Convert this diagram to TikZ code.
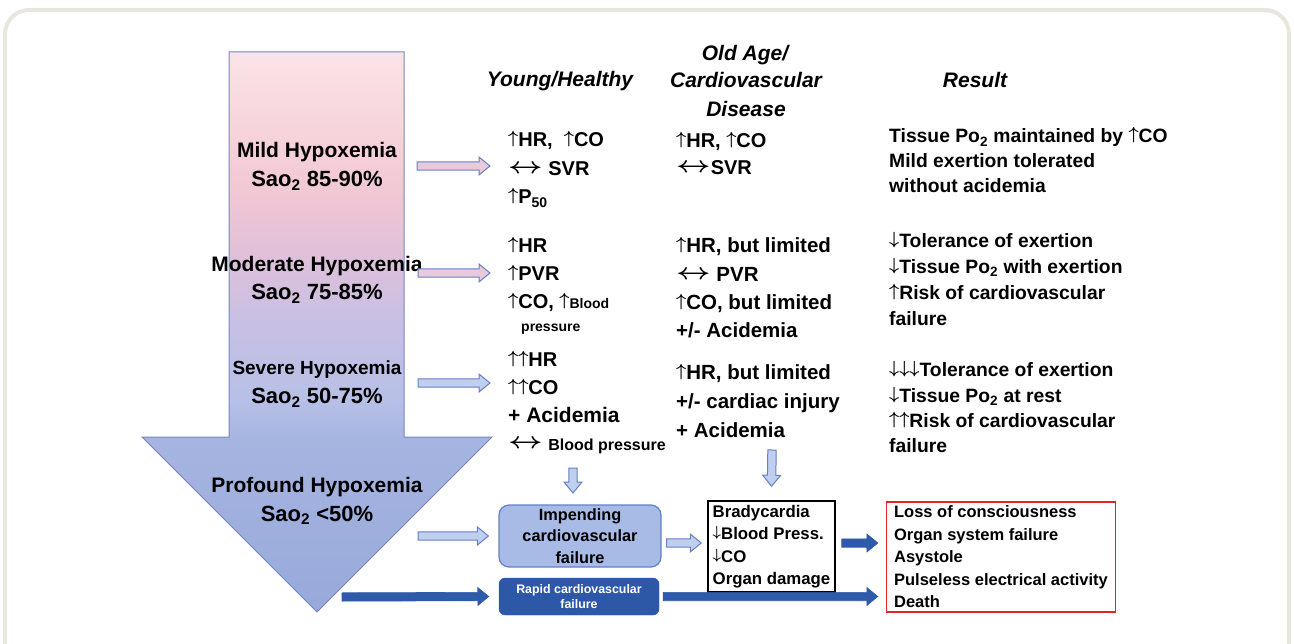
\documentclass[tikz,border=0pt]{standalone}
\usepackage{graphicx}
\usepackage{fontspec}
\setmainfont{Liberation Sans}
\usetikzlibrary{calc}

\definecolor{frameGray}{RGB}{233,230,222}
\definecolor{hxTop}{RGB}{250,228,232}
\definecolor{hxRose}{RGB}{247,212,219}
\definecolor{hxPink}{RGB}{240,198,212}
\definecolor{hxMauve}{RGB}{222,192,218}
\definecolor{hxLav}{RGB}{200,192,228}
\definecolor{hxBlue}{RGB}{183,192,230}
\definecolor{hxHead}{RGB}{166,180,224}
\definecolor{hxBot}{RGB}{152,169,218}
\definecolor{hxEdge}{RGB}{118,134,196}
\definecolor{arPink}{RGB}{232,202,218}
\definecolor{arLight}{RGB}{192,206,240}
\definecolor{arEdge}{RGB}{100,128,196}
\definecolor{arDark}{RGB}{47,90,170}
\definecolor{impFill}{RGB}{168,186,230}
\definecolor{rapidFill}{RGB}{45,88,168}
\definecolor{resRed}{RGB}{226,38,38}

\pgfdeclareverticalshading{hypox}{100bp}{color(0bp)=(hxBot); color(25bp)=(hxBot);
  color(40.4bp)=(hxHead); color(43.9bp)=(hxBlue); color(51bp)=(hxLav); color(56.4bp)=(hxMauve);
  color(61.8bp)=(hxPink); color(68bp)=(hxRose); color(75bp)=(hxTop); color(100bp)=(hxTop)}

% thin arrows as in the figure
\newcommand\arUp{\raisebox{.165em}{\scalebox{.85}{\boldmath$\uparrow$}}}
\newcommand\arDn{\raisebox{.165em}{\scalebox{.85}{\boldmath$\downarrow$}}}
\newcommand\arLR{\raisebox{.1em}{\scalebox{1.45}[1.1]{\boldmath$\leftrightarrow$}}}

\def\bkShaft{4.2pt}
\def\bkHead{9pt}
\def\bkTip{11pt}
% block arrow from #2 to #3, style #1
\newcommand\blockarrow[3]{%
  \filldraw[#1] let \p1=(#2), \p2=(#3), \p3=($(\p2)!\bkTip!(\p1)$) in
    ($(\p1)!\bkShaft!90:(\p2)$) -- ($(\p3)!\bkShaft!-90:(\p1)$) -- ($(\p3)!\bkHead!-90:(\p1)$)
    -- (\p2) -- ($(\p3)!\bkHead!90:(\p1)$) -- ($(\p3)!\bkShaft!90:(\p1)$)
    -- ($(\p1)!\bkShaft!-90:(\p2)$) -- cycle;}

\tikzset{
  big/.style={anchor=base, inner sep=0pt, font=\bfseries\fontsize{21}{24}\selectfont},
  sat/.style={anchor=base, inner sep=0pt, font=\bfseries\fontsize{22}{24}\selectfont},
  hd/.style={anchor=base, inner sep=0pt, font=\bfseries\itshape\fontsize{21}{24}\selectfont},
  ln/.style={anchor=base west, inner sep=0pt, font=\bfseries\fontsize{20}{24}\selectfont},
  res/.style={anchor=base west, inner sep=0pt, font=\bfseries\fontsize{19.3}{24}\selectfont},
  pinkar/.style={fill=arPink, draw=arEdge, line width=1pt},
  bluear/.style={fill=arLight, draw=arEdge, line width=1pt},
  darkar/.style={fill=arDark, draw=arDark, line width=.6pt}
}

\begin{document}
\begin{tikzpicture}[x=1pt, y=-1pt]
  \useasboundingbox (0,0) rectangle (1294,644);
  \draw[frameGray, line width=4pt, rounded corners=24pt] (5,10) rectangle (1289,700);

  % falling saturation
  \path[shade, shading=hypox, draw=hxEdge, line width=1pt] (229,52) -- (404,52) -- (404,437)
    -- (492,437) -- (317,612) -- (142,437) -- (229,437) -- cycle;

  \node[big] (mild) at (317,158) {Mild Hypoxemia};
  \node[sat] (mildSat) at (317,187) {Sao\textsubscript{2} 85-90\%};
  \node[big] (moder) at (317,272) {Moderate Hypoxemia};
  \node[sat] (moderSat) at (317,300) {Sao\textsubscript{2} 75-85\%};
  \node[big, font=\bfseries\fontsize{19}{24}\selectfont] (sev) at (317,375) {Severe Hypoxemia};
  \node[sat] (sevSat) at (317,404) {Sao\textsubscript{2} 50-75\%};
  \node[big] (prof) at (317,492) {Profound Hypoxemia};
  \node[sat] (profSat) at (317,521) {Sao\textsubscript{2} <50\%};

  % column heads
  \node[hd] (hdYoung) at (560,87) {Young/Healthy};
  \node[hd] (hdOld1) at (745,61) {Old Age/};
  \node[hd] (hdOld2) at (746,88) {Cardiovascular};
  \node[hd] (hdOld3) at (746,117) {Disease};
  \node[hd] (hdRes) at (975,88) {Result};

  % young / healthy
  \foreach \t [count=\i] in {{\arUp HR,\ \ \arUp CO}, {\arLR\ SVR}, {\arUp P\textsubscript{50}}}
    \node[ln] (yh1-\i) at (508,{147+(\i-1)*28.5}) {\t};
  \foreach \t [count=\i] in {{\arUp HR}, {\arUp PVR}, {\arUp CO, \arUp{\fontsize{14}{14}\selectfont Blood}}}
    \node[ln] (yh2-\i) at (508,{253+(\i-1)*28}) {\t};
  \node[ln, font=\bfseries\fontsize{14}{14}\selectfont] (yh2-4) at (521,332) {pressure};
  \foreach \t [count=\i] in {{\arUp\arUp HR}, {\arUp\arUp CO}, {\fontsize{21}{24}\selectfont + Acidemia},
      {\arLR\ {\fontsize{16}{16}\selectfont Blood pressure}}}
    \node[ln] (yh3-\i) at (508,{367+(\i-1)*27.7}) {\t};

  % old age / cardiovascular disease
  \foreach \t [count=\i] in {{\arUp HR, \arUp CO}, {\arLR SVR}}
    \node[ln] (od1-\i) at (676,{148+(\i-1)*27}) {\t};
  \foreach \t [count=\i] in {{\arUp HR, but limited}, {\arLR\ PVR}, {\arUp CO, but limited}, {+/- Acidemia}}
    \node[ln, font=\bfseries\fontsize{20.5}{24}\selectfont] (od2-\i) at (676,{253+(\i-1)*28.3}) {\t};
  \foreach \t [count=\i] in {{\arUp HR, but limited}, {+/- cardiac injury}, {+ Acidemia}}
    \node[ln, font=\bfseries\fontsize{20.5}{24}\selectfont] (od3-\i) at (676,{380+(\i-1)*28.5}) {\t};

  % result
  \foreach \t [count=\i] in {{Tissue Po\textsubscript{2} maintained by \arUp CO}, {Mild exertion tolerated},
      {without acidemia}}
    \node[res] (rs1-\i) at (889,{143+(\i-1)*25}) {\t};
  \foreach \t [count=\i] in {{\arDn Tolerance of exertion}, {\arDn Tissue Po\textsubscript{2} with exertion},
      {\arUp Risk of cardiovascular}, {failure}}
    \node[res] (rs2-\i) at (889,{248+(\i-1)*25.7}) {\t};
  \foreach \t [count=\i] in {{\arDn\arDn\arDn Tolerance of exertion}, {\arDn Tissue Po\textsubscript{2} at rest},
      {\arUp\arUp Risk of cardiovascular}, {failure}}
    \node[res] (rs3-\i) at (889,{377+(\i-1)*25.3}) {\t};

  % bottom boxes
  \node[fill=impFill, draw=arEdge, line width=1.2pt, rounded corners=10pt, minimum width=162pt,
    minimum height=62pt, inner sep=0pt, align=center, font=\bfseries\fontsize{16.3}{21.5}\selectfont]
    (imp) at (580,536) {Impending\\cardiovascular\\failure};
  \node[fill=rapidFill, draw=rapidFill, rounded corners=6pt, minimum width=160pt, minimum height=37pt,
    inner sep=0pt, align=center, text=white, font=\bfseries\fontsize{12.4}{15}\selectfont]
    (rapid) at (579,596.5) {Rapid cardiovascular\\failure};
  \node[draw=black, fill=white, line width=1.5pt, minimum width=127pt, minimum height=91pt,
    inner sep=2pt, align=left, font=\bfseries\fontsize{16.8}{22.5}\selectfont]
    (brady) at (771.5,546.5) {Bradycardia\\\arDn Blood Press.\\\arDn CO\\Organ damage};
  \node[draw=resRed, line width=1.3pt, minimum width=229pt, minimum height=110pt, inner sep=2pt,
    align=left, font=\bfseries\fontsize{16.5}{22.5}\selectfont]
    (result) at (1001,557) {Loss of consciousness\\Organ system failure\\Asystole\\
      Pulseless electrical activity\\Death};

  % connectors
  \coordinate (mildOut) at (417,166);   \coordinate (mildIn) at (490,166);
  \coordinate (moderOut) at (418,273);  \coordinate (moderIn) at (490,273);
  \coordinate (sevOut) at (418,383);    \coordinate (sevIn) at (490,383);
  \coordinate (profOut) at (418,536);
  \coordinate (tipOut) at (342,597);
  \coordinate (yhDown) at (573,468);    \coordinate (impIn) at (573,493);
  \coordinate (odDown) at (772,450);
  \coordinate (redIn) at (brady.east -| result.west);
  \coordinate (redIn2) at (rapid.east -| result.west);

  \blockarrow{pinkar}{mildOut}{mildIn}
  \blockarrow{pinkar}{moderOut}{moderIn}
  \blockarrow{bluear}{sevOut}{sevIn}
  \blockarrow{bluear}{profOut}{[xshift=-10pt]imp.west}
  \blockarrow{bluear}{yhDown}{impIn}
  \blockarrow{bluear}{odDown}{[yshift=14pt]brady.north}
  \blockarrow{bluear}{[xshift=5pt,yshift=-7pt]imp.east}{[xshift=-6pt,yshift=3.5pt]brady.west}
  \blockarrow{darkar}{[xshift=6pt,yshift=3.5pt]brady.east}{[xshift=-8pt,yshift=3.5pt]redIn}
  \blockarrow{darkar}{[xshift=4pt]rapid.east}{[xshift=-8pt]redIn2}
  \blockarrow{darkar}{tipOut}{[xshift=-10pt]rapid.west}
\end{tikzpicture}
\end{document}
